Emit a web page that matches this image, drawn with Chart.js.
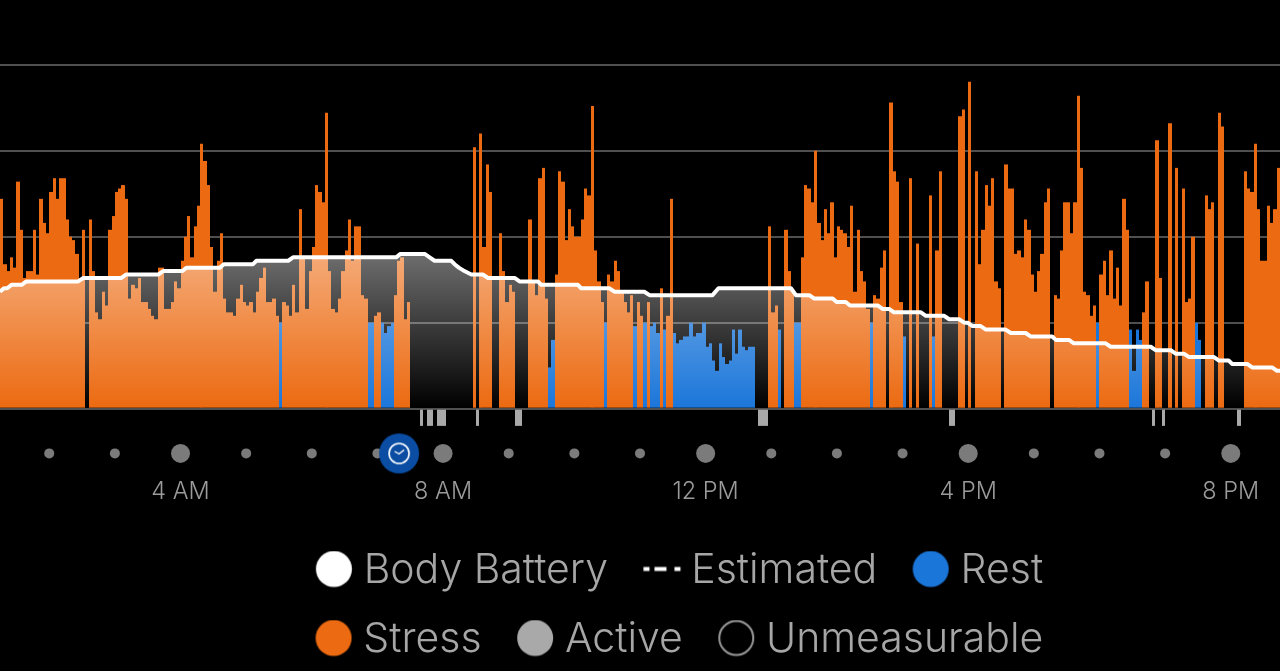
<!DOCTYPE html>
<html><head><meta charset="utf-8">
<style>html,body{margin:0;padding:0;background:#000;overflow:hidden}canvas{display:block}</style>
<script src="https://cdn.jsdelivr.net/npm/chart.js@4"></script>
</head><body><canvas id="c" width="1280" height="671"></canvas>
<script>
const startHour = 1.25, binHours = 0.05;
const stressValues = [
61,42,40,44,41,66,52,38,40,40,
52,39,61,54,51,63,67,61,67,67,
55,50,49,45,37,52,0,55,40,28,
26,34,30,52,56,63,64,65,61,32,
36,35,38,31,31,29,27,26,41,41,
29,29,31,37,35,43,50,56,44,53,
59,77,72,65,47,34,43,51,32,28,
28,27,32,36,31,30,31,28,34,38,
41,31,31,32,27,0,31,30,27,36,
28,58,44,29,40,47,65,63,60,86,
40,29,28,32,40,46,55,43,53,53,
33,32,0,0,27,28,0,0,0,0,
33,43,44,26,31,0,0,0,0,0,
0,0,0,0,0,0,0,0,0,0,
0,0,0,0,76,0,80,47,71,63,
0,0,51,40,31,36,34,0,0,0,
0,55,37,33,67,70,32,0,0,39,
69,66,49,58,53,50,50,55,64,62,
88,46,37,31,0,39,37,43,40,34,
31,28,33,0,31,27,0,31,0,0,
0,35,0,27,61,0,0,0,0,0,
0,0,0,0,0,0,0,0,0,0,
0,0,0,0,0,0,0,0,0,0,
0,0,0,0,53,28,30,0,0,52,
40,34,0,0,44,65,64,60,75,54,
49,58,51,60,44,53,52,51,47,59,
34,52,40,37,29,0,33,32,41,46,
0,89,69,66,31,0,0,67,0,48,
0,0,0,62,0,46,69,0,0,0,
0,0,85,87,0,95,0,69,42,52,
65,59,67,37,35,0,71,64,64,45,
46,44,55,52,39,34,40,45,60,64,
0,33,32,46,60,60,51,60,91,70,
34,33,27,30,0,39,43,33,46,32,
41,30,61,52,0,0,0,0,28,37,
0,0,78,38,0,0,83,0,70,0,
64,31,32,50,0,0,0,62,58,60,
0,86,82,0,0,0,0,0,0,69,
64,63,77,58,43,43,59,54,58,70];
const restBins = [85,112,113,116,117,118,119,167,168,184,193,196,198,199,200,202,
205,206,207,208,209,210,211,212,213,214,215,216,217,218,219,220,221,222,223,224,225,226,227,228,229,
237,242,243,265,275,284,334,344,345,346,347,364,365];
const restValues = [25,25,25,25,22,24,25,12,20,25,24,25,24,25,22,23,
22,19,20,21,21,25,21,22,22,25,18,19,14,11,19,15,13,14,23,16,23,18,17,18,18,
23,25,25,25,21,21,25,23,11,23,20,25,20];
const activeBins = [128,130,131,133,134,135,145,157,158,231,232,233,289,290,351,354,377];
const activeDepth = -5;
const batteryBins = [0,1.2,2.2,3.5,6.6,8,23.8,25.4,37,38.4,48.2,49.7,55.6,56.8,67,68.2,77.1,78.1,87.8,89.3,120.7,122,
129.4,130.9,132.4,137.5,138.5,139.8,141.5,143.6,147.1,148.7,156.8,158.3,163.9,164.9,176.1,177.1,185.7,187.2,196.3,197.9,217.1,218.9,241,242.5,246.6,248.1,253.7,254.9,257.7,259,
267.4,268.9,270.9,272.4,280.6,282.1,287.7,289.2,292.2,293.8,294.8,296.3,298.8,300.4,306.4,308,312.5,314,320.6,321.7,325.7,327.2,336.9,338.4,350.6,352.1,356.7,358.2,360.7,362.3,369.9,371.4,374.4,375.4,380,381.5,387.6,389.1,390];
const batteryValues = [34,35,35,36,36,37,37,38,38,39,39,40,40,41,41,42,42,43,43,44,44,45,
45,44,43,43,42,41,40,39,39,38,38,37,37,36,36,35,35,34,34,33,33,35,35,33,33,32,32,31,31,30,
30,29,29,28,28,27,27,26,26,25,25,24,24,23,23,22,22,21,21,20,20,19,19,18,18,17,17,16,16,15,15,14,14,13,13,12,12,11,11];
const tickHours = [4,8,12,16,20];
const tickLabels = ['4 AM','8 AM','12 PM','4 PM','8 PM'];
const smallDotHours = [2,3,5,6,7,9,10,11,13,14,15,17,18,19];
const clockHour = 7.33;
const legendNames = ['Body Battery','Estimated','Rest','Stress','Active','Unmeasurable'];

const ORANGE='#ec6a11', BLUE='#1b76d9', ACTIVE='#a9a9a9', DOT='#7b7b7b', TEXT='#a6a6a6';
const binX = i => startHour + (i + 0.5) * binHours;
const edgeX = b => startHour + b * binHours;

function glyph(draw){
  const c=document.createElement('canvas');c.width=80;c.height=40;
  const g=c.getContext('2d');g.translate(28.125,-1.5);
  draw(g);return c;
}
function disc(col){return glyph(g=>{g.fillStyle=col;g.beginPath();g.arc(20,20,18,0,Math.PI*2);g.fill();});}
const legendGlyphs=[
  disc('#ffffff'),
  glyph(g=>{g.fillStyle='#fff';g.fillRect(2,18,6,4);g.fillRect(13,18,12,4);g.fillRect(33,18,6,4);}),
  disc(BLUE),disc(ORANGE),disc(ACTIVE),
  glyph(g=>{g.strokeStyle='#9a9a9a';g.lineWidth=2;g.beginPath();g.arc(20,20,17,0,Math.PI*2);g.stroke();})
];
const clockIcon=(()=>{
  const c=document.createElement('canvas');c.width=42;c.height=42;const g=c.getContext('2d');
  g.fillStyle='#0a4da3';g.beginPath();g.arc(21,21,20,0,Math.PI*2);g.fill();
  g.strokeStyle='#fff';g.lineWidth=1.6;g.beginPath();g.arc(21,21,10,0,Math.PI*2);g.stroke();
  g.lineWidth=1.4;g.beginPath();g.moveTo(16.5,19);g.lineTo(21,21.5);g.lineTo(26,17.5);g.stroke();
  return c;
})();
const LEGEND_TOP=522, LEGEND_HEIGHT=150.25, LEGEND_LEFT=251.5, LEGEND_RIGHT=1100;
const legendRowsPlugin={id:'legendRows',
 beforeLayout(chart){
  const l=chart.legend;
  if(l&&!l._rowsPatched){
    l._rowsPatched=true;
    const fit=l.fit;
    l.fit=function(){const m=this.maxWidth;this.maxWidth=800;fit.call(this);this.maxWidth=m;this.height=LEGEND_HEIGHT;};
  }
 },
 afterLayout(chart){
  const l=chart.legend;
  l.left=LEGEND_LEFT;l.right=LEGEND_RIGHT;l.width=LEGEND_RIGHT-LEGEND_LEFT;l.top=LEGEND_TOP;l.bottom=LEGEND_TOP+LEGEND_HEIGHT;
 },
 afterDatasetsUpdate(chart){
  chart.data.datasets.forEach((d,i)=>{
    if(d.type!=='bar')return;
    chart.getDatasetMeta(i).data.forEach(el=>{
      const a=Math.round(el.x-el.width/2),b=Math.round(el.x+el.width/2);
      el.x=(a+b)/2;el.width=b-a;
    });
  });
 }
};

new Chart(document.getElementById('c'),{
  type:'bar',
  plugins:[legendRowsPlugin],
  data:{datasets:[
    {type:'line',label:'Body Battery',order:0,
     data:batteryBins.map((b,i)=>({x:edgeX(b),y:batteryValues[i]})),
     borderColor:'#fff',borderWidth:4,pointRadius:0,tension:0,borderJoinStyle:'round',
     fill:'origin',
     backgroundColor(ctx){
       const ch=ctx.chart;if(!ch.chartArea)return 'rgba(255,255,255,.2)';
       const y=ch.scales.y;
       const g=ch.ctx.createLinearGradient(0,y.getPixelForValue(45),0,y.getPixelForValue(0));
       g.addColorStop(0,'rgba(255,255,255,0.43)');g.addColorStop(1,'rgba(255,255,255,0)');
       return g;
     }},
    {type:'bar',label:'Stress',order:3,grouped:false,barPercentage:1,categoryPercentage:1,inflateAmount:0,
     data:stressValues.map((v,i)=>({x:binX(i),y:v})).filter(p=>p.y>0),backgroundColor:ORANGE},
    {type:'bar',label:'Rest',order:3,grouped:false,barPercentage:1,categoryPercentage:1,inflateAmount:0,
     data:restBins.map((b,i)=>({x:binX(b),y:restValues[i]})),backgroundColor:BLUE},
    {type:'bar',label:'Active',order:3,grouped:false,barPercentage:1,categoryPercentage:1,inflateAmount:0,
     data:activeBins.map(b=>({x:binX(b),y:activeDepth})),backgroundColor:ACTIVE},
    {type:'scatter',label:'Hours',order:2,
     data:smallDotHours.map(h=>({x:h,y:-13})),pointRadius:5,pointBackgroundColor:DOT,pointBorderWidth:0},
    {type:'scatter',label:'Major hours',order:2,
     data:tickHours.map(h=>({x:h,y:-13})),pointRadius:9.5,pointBackgroundColor:DOT,pointBorderWidth:0},
    {type:'scatter',label:'Now',order:1,
     data:[{x:clockHour,y:-13}],pointStyle:clockIcon,pointRadius:20}
  ]},
  options:{
    responsive:false,animation:false,devicePixelRatio:1,
    layout:{autoPadding:false,padding:0},
    plugins:{
      tooltip:{enabled:false},
      legend:{
        display:true,position:'bottom',onClick:null,
        labels:{
          usePointStyle:true,pointStyleWidth:34.75,boxHeight:25,padding:28,color:TEXT,
          font:{family:'Inter',size:41,weight:'300'},
          generateLabels:()=>legendNames.map((t,i)=>({text:t,pointStyle:legendGlyphs[i],fontColor:TEXT,hidden:false,lineWidth:0,datasetIndex:null}))
        }
      }
    },
    scales:{
      x:{type:'linear',min:startHour,max:startHour+390*binHours,offset:false,
         grid:{display:false,drawTicks:false},border:{display:false},
         afterBuildTicks(s){s.ticks=tickHours.map(v=>({value:v}));},
         afterFit(s){s.height=42.75;s.paddingLeft=0;s.paddingRight=0;},
         ticks:{autoSkip:false,maxRotation:0,padding:2,color:'#9b9b9b',
           font:{family:'Inter',size:23.5,weight:'300',lineHeight:1},
           callback(v){return tickLabels[tickHours.indexOf(v)];}}},
      y:{type:'linear',min:-20.15,max:118.8,
         border:{display:false},
         grid:{color:'#4f4f4f',lineWidth:2,drawTicks:false},
         afterBuildTicks(s){s.ticks=[0,25,50,75,100].map(v=>({value:v}));},
         afterFit(s){s.width=0;s.paddingTop=0;s.paddingBottom=0;},
         ticks:{display:false}}
    }
  }
});
</script></body></html>
